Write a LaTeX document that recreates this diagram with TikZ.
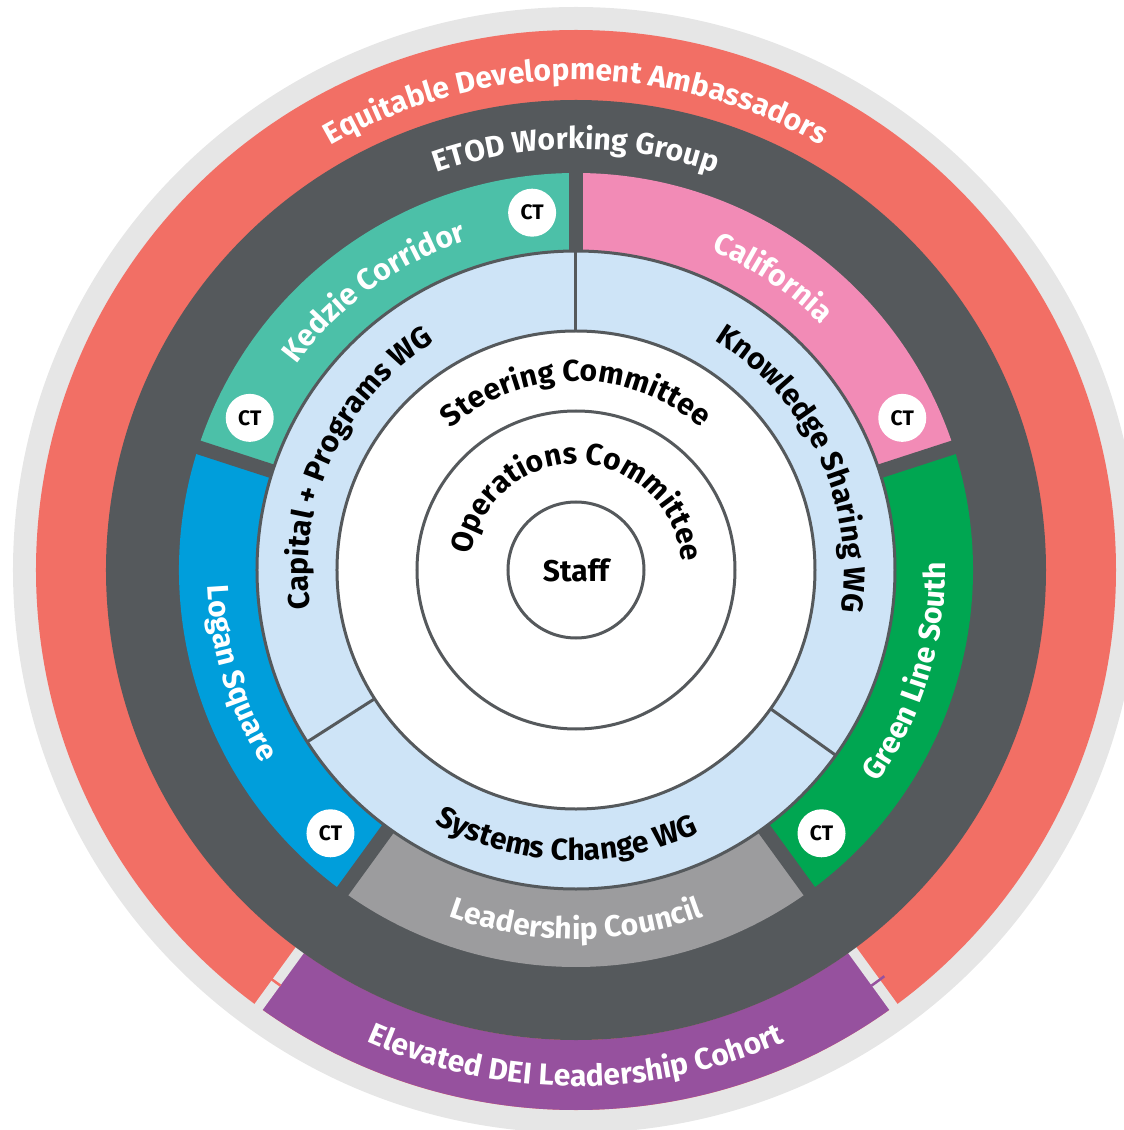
\documentclass[tikz,border=0pt]{standalone}
\usepackage{fontspec}
\setmainfont{Fira Sans}
\usetikzlibrary{decorations.text}
\definecolor{outergray}{HTML}{E6E6E6}
\definecolor{ambred}{HTML}{F26F65}
\definecolor{etodgray}{HTML}{55595C}
\definecolor{kedzieteal}{HTML}{4CC0A8}
\definecolor{calpink}{HTML}{F28BB6}
\definecolor{loganblue}{HTML}{009EDB}
\definecolor{greenline}{HTML}{00A651}
\definecolor{councilgray}{HTML}{9C9C9E}
\definecolor{wgblue}{HTML}{CEE4F7}
\definecolor{deipurple}{HTML}{96519E}
\newcommand{\ringfont}{\bfseries\fontsize{30}{30}\selectfont}
\newcommand{\ctfont}{\bfseries\fontsize{21}{21}\selectfont}
\begin{document}
\begin{tikzpicture}[x=1pt,y=1pt,
        ctbadge/.style={circle,fill=white,minimum size=48pt,inner sep=0pt,font=\ctfont},
        outline/.style={draw=etodgray,line width=3pt},
        gapline/.style={draw=etodgray,line width=14pt},
        lightgap/.style={draw=outergray,line width=10pt},
        lettering/.style={decorate,decoration={text along path,text align=center,text color=#1}}]
            \useasboundingbox (-576,-560) rectangle (548,570);
            \coordinate (O) at (0,0);
            \fill[outergray] (O) circle (563);
            \fill[ambred] (O) circle (540);
            \fill[deipurple] (234:470) arc[start angle=234,end angle=306,radius=470] -- (306:540) arc[start angle=306,end angle=234,radius=540] -- cycle;
            \draw[lightgap] (234:460) -- (234:548);
            \draw[lightgap] (306:460) -- (306:548);
            \draw[ambred,line width=2.5pt] (232.8:510) arc[start angle=232.8,end angle=234.6,radius=510];
            \draw[deipurple,line width=2.5pt] (305.4:510) arc[start angle=305.4,end angle=307.2,radius=510];
            \fill[etodgray] (O) circle (470);
            \fill[kedzieteal] (90:319) arc[start angle=90,end angle=162,radius=319] -- (162:397) arc[start angle=162,end angle=90,radius=397] -- cycle;
            \fill[loganblue] (162:319) arc[start angle=162,end angle=234,radius=319] -- (234:397) arc[start angle=234,end angle=162,radius=397] -- cycle;
            \fill[councilgray] (234:319) arc[start angle=234,end angle=306,radius=319] -- (306:397) arc[start angle=306,end angle=234,radius=397] -- cycle;
            \fill[greenline] (306:319) arc[start angle=306,end angle=378,radius=319] -- (18:397) arc[start angle=378,end angle=306,radius=397] -- cycle;
            \fill[calpink] (18:319) arc[start angle=18,end angle=90,radius=319] -- (90:397) arc[start angle=90,end angle=18,radius=397] -- cycle;
            \draw[gapline] (90:300) -- (90:410);
            \draw[gapline] (162:300) -- (162:410);
            \draw[gapline] (234:300) -- (234:410);
            \draw[gapline] (306:300) -- (306:410);
            \draw[gapline] (18:300) -- (18:410);
            \draw[outline,fill=wgblue] (O) circle (319);
            \draw[outline] (90:239) -- (90:319);
            \draw[outline] (212.6:239) -- (212.6:319);
            \draw[outline] (324.5:239) -- (324.5:319);
            \draw[outline,fill=white] (O) circle (239);
            \draw[outline] (O) circle (159);
            \draw[outline] (O) circle (68);
            \path[lettering=white,decoration={text={|\ringfont|Equitable Development Ambassadors}}] (170:490) arc[start angle=170,end angle=10,radius=490];
            \path[lettering=white,decoration={text={|\ringfont|ETOD Working Group}}] (170:421) arc[start angle=170,end angle=10,radius=421];
            \path[lettering=white,decoration={text={|\ringfont|Kedzie Corridor}}] (186:347) arc[start angle=186,end angle=66,radius=347];
            \path[lettering=white,decoration={text={|\ringfont|California}}] (116:347) arc[start angle=116,end angle=-4,radius=347];
            \path[lettering=white,decoration={text={|\ringfont|Logan Square}}] (137:369) arc[start angle=137,end angle=257,radius=369];
            \path[lettering=white,decoration={text={|\ringfont|Green Line South}}] (-77:369) arc[start angle=-77,end angle=43,radius=369];
            \path[lettering=white,decoration={text={|\ringfont|Leadership Council}}] (210:369) arc[start angle=210,end angle=330,radius=369];
            \path[lettering=white,decoration={text={|\ringfont|Elevated DEI Leadership Cohort}}] (200:516) arc[start angle=200,end angle=340,radius=516];
            \path[lettering=black,decoration={text={|\ringfont|Capital + Programs WG}}] (235:268) arc[start angle=235,end angle=75,radius=268];
            \path[lettering=black,decoration={text={|\ringfont|Knowledge Sharing WG}}] (105:268) arc[start angle=105,end angle=-55,radius=268];
            \path[lettering=black,decoration={text={|\ringfont|Systems Change WG}}] (188:290) arc[start angle=188,end angle=348,radius=290];
            \path[lettering=black,decoration={text={|\ringfont|Steering Committee}}] (170:189) arc[start angle=170,end angle=10,radius=189];
            \path[lettering=black,decoration={text={|\ringfont|Operations Committee}}] (208:106) arc[start angle=208,end angle=-32,radius=106];
            \node[font=\ringfont] (staff) at (O) {Staff};
            \node[ctbadge] (ctkedzietop) at (97:360) {CT};
            \node[ctbadge] (ctkedzieleft) at (155:360) {CT};
            \node[ctbadge] (ctcalifornia) at (25:360) {CT};
            \node[ctbadge] (ctlogan) at (227:360) {CT};
            \node[ctbadge] (ctgreenline) at (313:360) {CT};
        \end{tikzpicture}
\end{document}
